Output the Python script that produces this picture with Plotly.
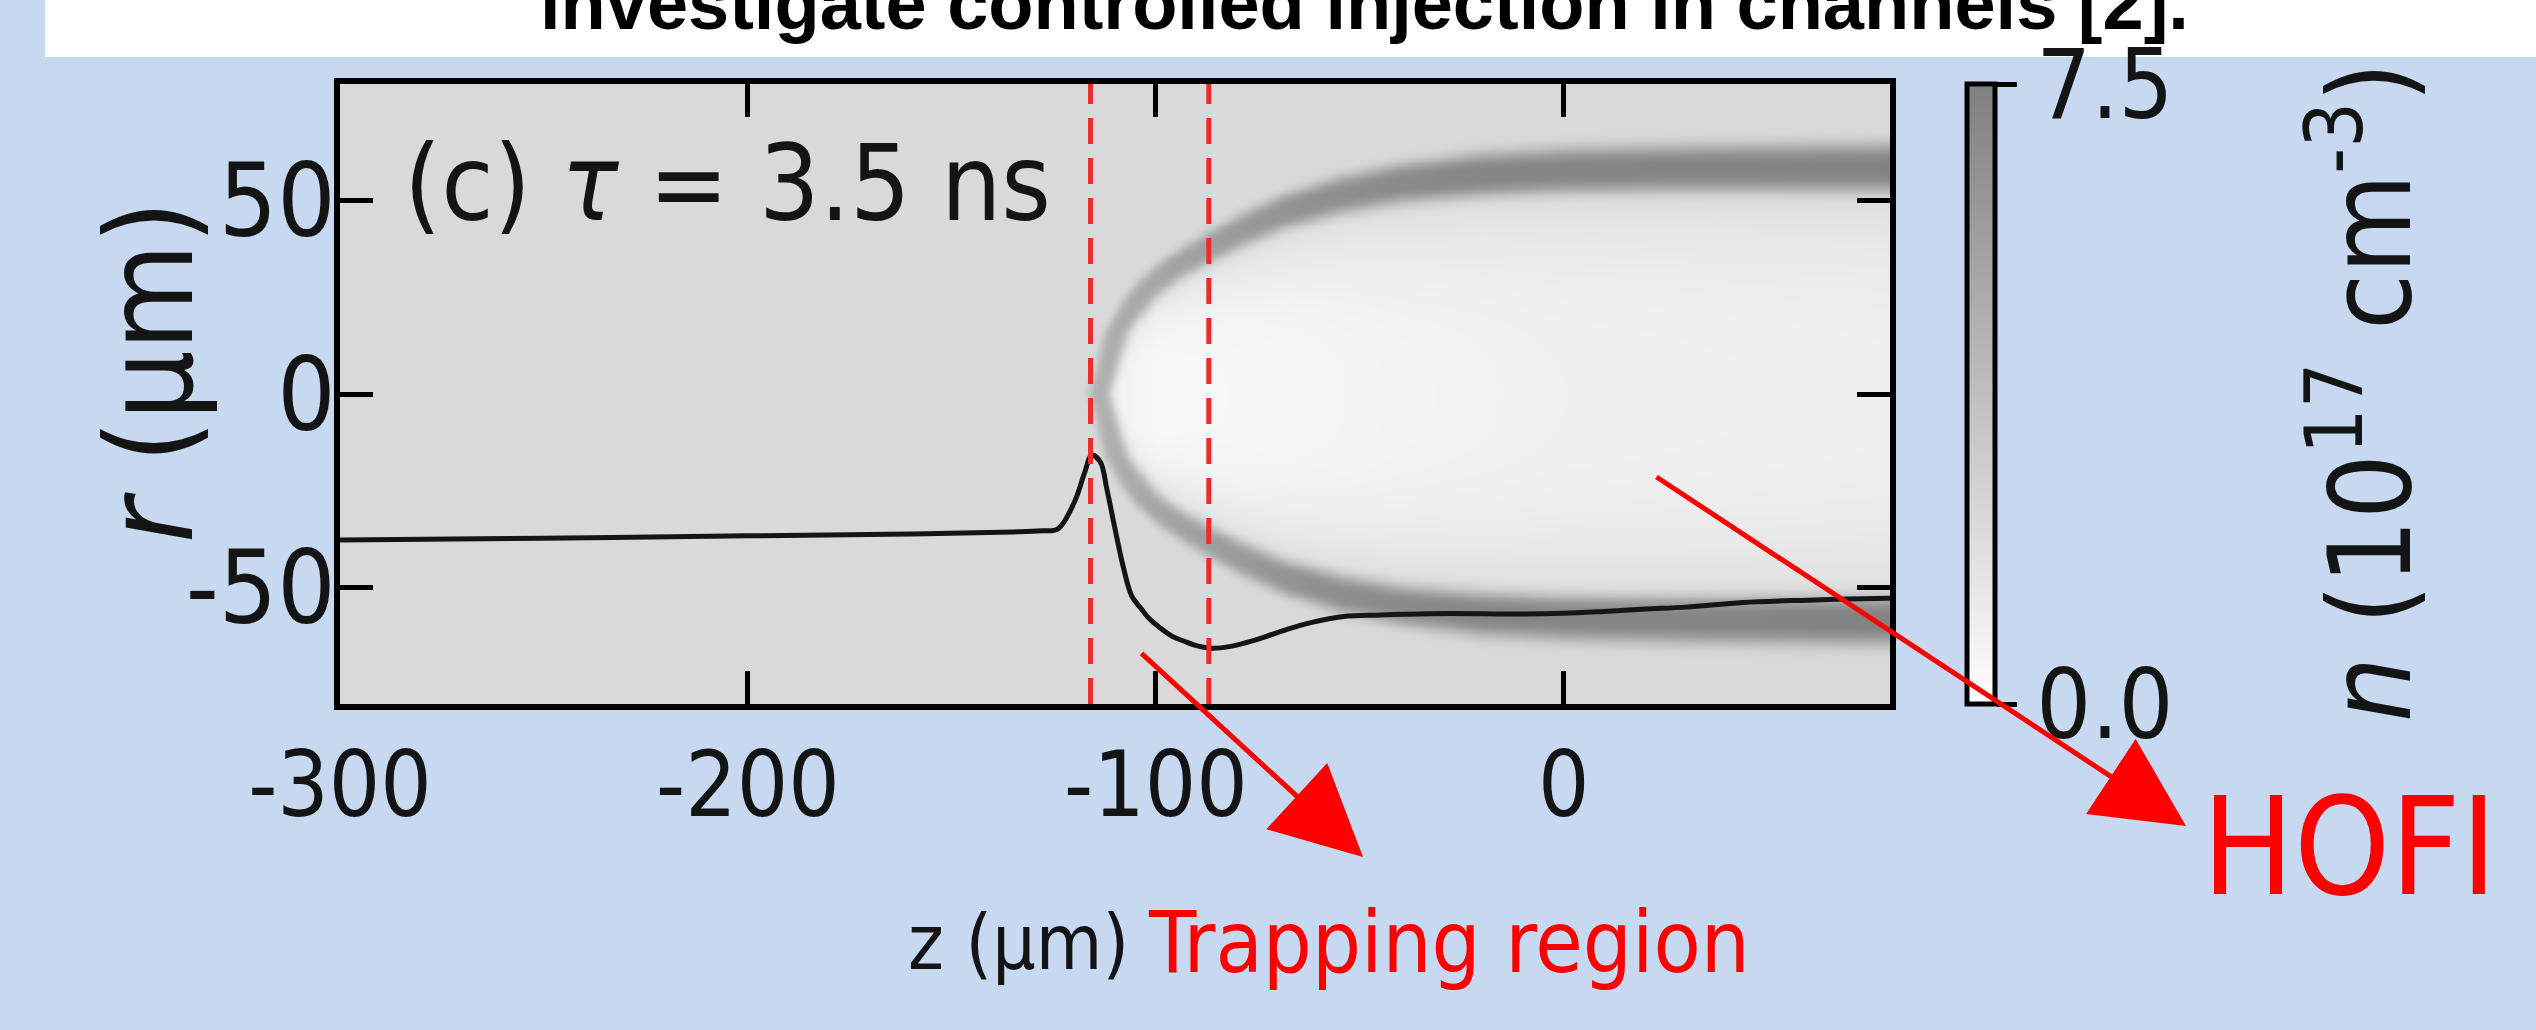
import numpy as np
import plotly.graph_objects as go

# ---------------- data ----------------
# black trajectory line  (z in um, r in um)
curve_z = [-300, -250, -200, -160, -135, -128, -124, -120, -117.5, -115.7, -113.6, -112, -110, -108,
           -105.9, -103.5, -101.7, -99, -96, -93, -90.5, -86.3, -82, -78, -73, -68, -62, -54,
           -45, -33, -20, -10, 0, 10, 20, 30, 44, 60, 70, 80]
curve_r = [-37.7, -37.2, -36.6, -36.1, -35.6, -35.3, -34.8, -28.0, -20.5, -15.8, -17.5, -24.5, -34.8, -44.5,
           -52.1, -55.5, -57.9, -60.3, -62.5, -63.8, -64.8, -65.6, -65.2, -64.2, -62.6, -60.8, -59.0, -57.4,
           -57.0, -56.7, -56.7, -56.8, -56.6, -56.1, -55.5, -55.0, -53.8, -53.2, -52.9, -52.7]

# trapping-region boundaries (dashed red lines)
trap_z = [-116, -87]

# plasma channel wall (dense sheath): wall radius vs z
wall_z = [-114, -110, -105, -100, -93, -87, -78, -68, -55, -40, -20, 0, 30, 80]
wall_r = [0.0, 16.0, 24.0, 29.7, 34.5, 38.0, 43.0, 47.5, 51.5, 54.5, 56.8, 57.8, 58.3, 58.5]
# wall peak density and half width vs z
wallpk_z = [-114, -95, -60, -20, 80]
wallpk_n = [4.6, 5.4, 6.6, 7.1, 7.3]
wallw_um = [2.8, 3.4, 4.6, 5.6, 6.2]
# density on the axis inside the channel vs z
axis_z = [-114, -100, -80, -40, 0, 80]
axis_n = [1.0, 0.35, 0.45, 0.7, 0.85, 0.95]
edge_n = 2.4        # density just inside the wall
bg_n = 2.2          # ambient density

# axis / colour-bar ticks
xtick_vals = [-300, -200, -100, 0]
xtick_text = ["-300", "-200", "-100", "0"]
ytick_vals = [-50, 0, 50]
ytick_text = ["-50", "0", "50"]
cb_vals = [0, 7.5]
cb_text = ["0.0", "7.5"]

# ---------------- build density map from the read profiles ----------------
zg = np.linspace(-300, 80, 381)
rg = np.linspace(-80, 80, 321)
Z, R = np.meshgrid(zg, rg)
A = np.abs(R)
Rw = np.interp(Z, wall_z, wall_r)
Rw = np.where(Z < wall_z[0], np.nan, Rw)
Zw = np.interp(A, wall_r, wall_z)
Zw = np.where(A > wall_r[-1], np.nan, Zw)
dr = np.where(np.isnan(Rw), np.inf, A - Rw)
dz = np.where(np.isnan(Zw), np.inf, Z - Zw)
with np.errstate(divide="ignore", invalid="ignore"):
    inv = 1.0 / np.maximum(dz ** 2, 1e-12) + 1.0 / np.maximum(dr ** 2, 1e-12)
    dist = 1.0 / np.sqrt(inv)
inside = (Z > wall_z[0]) & (A < np.nan_to_num(Rw, nan=-1))
a_ax = np.interp(Z, axis_z, axis_n)
ratio = np.clip(A / np.where(np.isnan(Rw) | (Rw <= 0), 1, Rw), 0, 1)
base = np.where(inside, a_ax + (edge_n - a_ax) * ratio ** 3, bg_n)
pk = np.interp(Z, wallpk_z, wallpk_n)
ww = np.interp(Z, wallpk_z, wallw_um)
g = np.exp(-np.abs(dist / ww) ** 3)
N = base * (1 - g) + pk * g

# ---------------- layout geometry ----------------
W, H = 2536, 1030
ML, MR, MT, MB = 340, 646, 84, 326
PW = W - ML - MR
PH = H - MT - MB


def fx(p):
    return (p - ML) / PW


def fy(p):
    return (H - MB - p) / PH


FONT = "Liberation Sans, Arial, sans-serif"
COND = "DejaVu Sans Condensed, DejaVu Sans, sans-serif"
RED = "#FF0000"
INK = "#141414"

fig = go.Figure()
fig.add_trace(go.Heatmap(
    x=zg, y=rg, z=N, zmin=0, zmax=7.5, zsmooth="best",
    colorscale=[[0, "#ffffff"], [1, "#7f7f7f"]],
    hoverinfo="skip",
    colorbar=dict(
        x=fx(1967), xanchor="left", xpad=0,
        y=0.5, yanchor="middle", ypad=0,
        lenmode="fraction", len=1.0, thicknessmode="pixels", thickness=28,
        outlinewidth=5, outlinecolor="black", borderwidth=0,
        ticks="outside", ticklen=20, tickwidth=5, tickcolor="black",
        tickvals=cb_vals, ticktext=cb_text,
        tickfont=dict(family=COND, size=96, color=INK),
    ),
))
fig.add_trace(go.Scatter(
    x=curve_z, y=curve_r, mode="lines", line=dict(color="#151515", width=5, shape="spline"),
    hoverinfo="skip", showlegend=False,
))

for zt in trap_z:
    fig.add_shape(type="line", xref="x", yref="paper", x0=zt, x1=zt, y0=0, y1=1,
                  line=dict(color="#F02A2A", width=5, dash="26px,14px"), layer="above")

# white banner at top
fig.add_shape(type="rect", xref="paper", yref="paper", x0=fx(45), x1=fx(W + 20),
              y0=fy(57), y1=fy(-20), fillcolor="white", line=dict(width=0), layer="below")

ann = []
ann.append(dict(text="<b>investigate controlled injection in channels [2].</b>", xref="paper", yref="paper",
                x=fx(1364), y=fy(-40), xanchor="center", yanchor="top", showarrow=False,
                font=dict(family=FONT, size=74, color="black")))
ann.append(dict(text="(c) <i>τ</i> = 3.5 ns", xref="paper", yref="paper",
                x=fx(402), y=fy(120), xanchor="left", yanchor="top", showarrow=False,
                font=dict(family=COND, size=106, color=INK)))
ann.append(dict(text="<i>r</i> (µm)", xref="paper", yref="paper", textangle=-90,
                x=fx(150), y=fy(372), xanchor="center", yanchor="middle", showarrow=False,
                font=dict(family=COND, size=122, color=INK)))
ann.append(dict(text="z (µm)", xref="paper", yref="paper",
                x=fx(1018), y=fy(896), xanchor="center", yanchor="top", showarrow=False,
                font=dict(family=COND, size=76, color=INK)))
ann.append(dict(text="<i>n</i> (10<sup>17</sup> cm<sup>-3</sup>)", xref="paper", yref="paper",
                textangle=-90, x=fx(2362), y=fy(392), xanchor="center", yanchor="middle",
                showarrow=False, font=dict(family=COND, size=114, color=INK)))
ann.append(dict(text="Trapping region", xref="paper", yref="paper",
                x=fx(1146), y=fy(890), xanchor="left", yanchor="top", showarrow=False,
                font=dict(family=COND, size=86, color=RED)))
ann.append(dict(text="HOFI", xref="paper", yref="paper",
                x=fx(2200), y=fy(766), xanchor="left", yanchor="top", showarrow=False,
                font=dict(family=COND, size=136, color=RED)))
# arrows
for (tx, ty, sx, sy) in [(1363, 857, 1140, 652), (2186, 826, 1655, 476)]:
    ann.append(dict(text="", xref="paper", yref="paper", x=fx(tx), y=fy(ty),
                    axref="pixel", ayref="pixel", ax=sx - tx, ay=sy - ty,
                    showarrow=True, arrowhead=2, arrowsize=3.6, arrowwidth=5, arrowcolor=RED,
                    standoff=0))

fig.update_layout(
    width=W, height=H, autosize=False,
    margin=dict(l=ML, r=MR, t=MT, b=MB, pad=0),
    paper_bgcolor="#C6D9F0", plot_bgcolor="#DADADA",
    showlegend=False,
    annotations=ann,
    font=dict(family=FONT, color=INK),
    xaxis=dict(range=[-300, 80], tickvals=xtick_vals, ticktext=xtick_text,
               ticks="inside", ticklen=33, tickwidth=5, tickcolor="black",
               showline=True, linewidth=6, linecolor="black", mirror="ticks",
               showgrid=False, zeroline=False, ticklabelstandoff=-2,
               tickfont=dict(family=COND, size=90, color=INK)),
    yaxis=dict(range=[-80, 80], tickvals=ytick_vals, ticktext=ytick_text,
               ticks="inside", ticklen=33, tickwidth=5, tickcolor="black",
               showline=True, linewidth=6, linecolor="black", mirror="ticks",
               showgrid=False, zeroline=False, ticklabelstandoff=-22,
               tickfont=dict(family=COND, size=102, color=INK)),
)

fig.write_html("out.html", config={"displayModeBar": False},
               post_script="document.body.style.margin='0px';")
